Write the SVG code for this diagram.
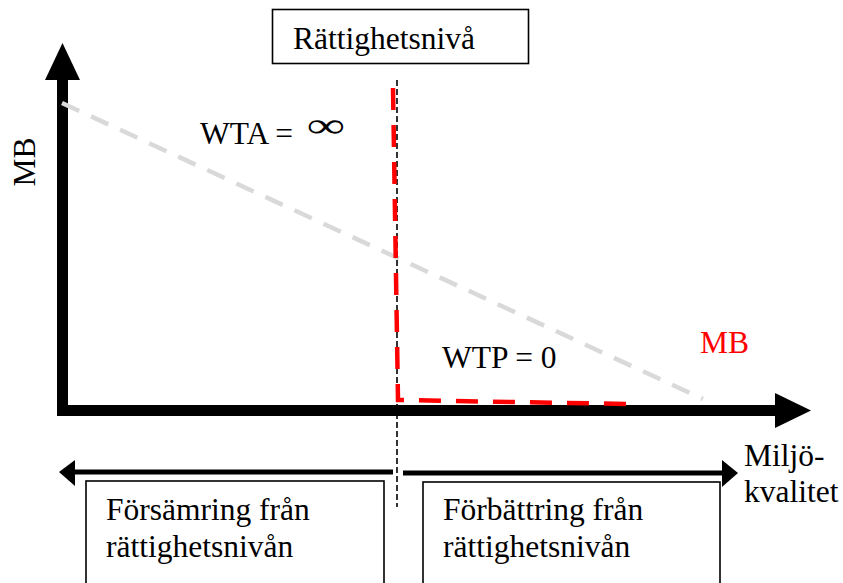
<svg xmlns="http://www.w3.org/2000/svg" width="843" height="583" viewBox="0 0 843 583">
  <style>
    text { font-family: "Liberation Serif", "Times New Roman", serif; font-size: 31.5px; fill: #000; }
    .box { fill: #fff; stroke: #000; stroke-width: 1.6; }
    .axis { fill: none; stroke: #000; stroke-width: 11; stroke-linejoin: miter; }
    .head { fill: #000; }
    .thin { stroke: #000; stroke-width: 5; fill: none; }
  </style>
  <rect width="843" height="583" fill="#fff"/>

  <g id="connectors">
    <!-- axes -->
    <path class="axis" d="M62.5,80 V410.5 H775"/>
    <polygon class="head" points="62.5,43 45,80 80,80"/>
    <polygon class="head" points="811,410.5 775,393 775,428"/>
    <!-- gray reference curve -->
    <line x1="62" y1="103" x2="703" y2="399" stroke="#d9d9d9" stroke-width="4.5" stroke-dasharray="19 13"/>
    <!-- rights level marker -->
    <line x1="397" y1="80" x2="397" y2="507" stroke="#000" stroke-width="1.6" stroke-dasharray="6 3"/>
    <!-- MB curve -->
    <path d="M393,88 L398,400 L630,404" fill="none" stroke="#ff0000" stroke-width="4.5" stroke-dasharray="22 15"/>
    <!-- direction arrows -->
    <line class="thin" x1="393" y1="472" x2="74" y2="472"/>
    <polygon class="head" points="59,472 75,460 75,486"/>
    <line class="thin" x1="403" y1="473" x2="723" y2="473"/>
    <polygon class="head" points="738,473 722,460 722,487"/>
  </g>

  <g id="rattighetsniva">
    <rect class="box" x="272.5" y="9.5" width="256" height="54"/>
    <text x="293" y="49">Rättighetsnivå</text>
  </g>

  <g id="axis-y-label">
    <text transform="translate(35,162) rotate(-90)" text-anchor="middle">MB</text>
  </g>

  <g id="wta">
    <text x="200" y="144">WTA =</text>
    <text transform="translate(306.8,137) scale(1.23,0.79)" x="0" y="0" style="font-size:44px">∞</text>
  </g>

  <g id="wtp">
    <text x="442" y="368">WTP = 0</text>
  </g>

  <g id="mb-label">
    <text x="700" y="353" style="fill:#ff0000">MB</text>
  </g>

  <g id="axis-x-label">
    <text x="744" y="466">Miljö-</text>
    <text x="744" y="502">kvalitet</text>
  </g>

  <g id="forsamring">
    <rect class="box" x="86" y="481" width="298" height="110"/>
    <text x="106" y="520">Försämring från</text>
    <text x="106" y="557">rättighetsnivån</text>
  </g>

  <g id="forbattring">
    <rect class="box" x="423" y="482" width="297" height="110"/>
    <text x="443" y="520">Förbättring från</text>
    <text x="443" y="557">rättighetsnivån</text>
  </g>
</svg>
